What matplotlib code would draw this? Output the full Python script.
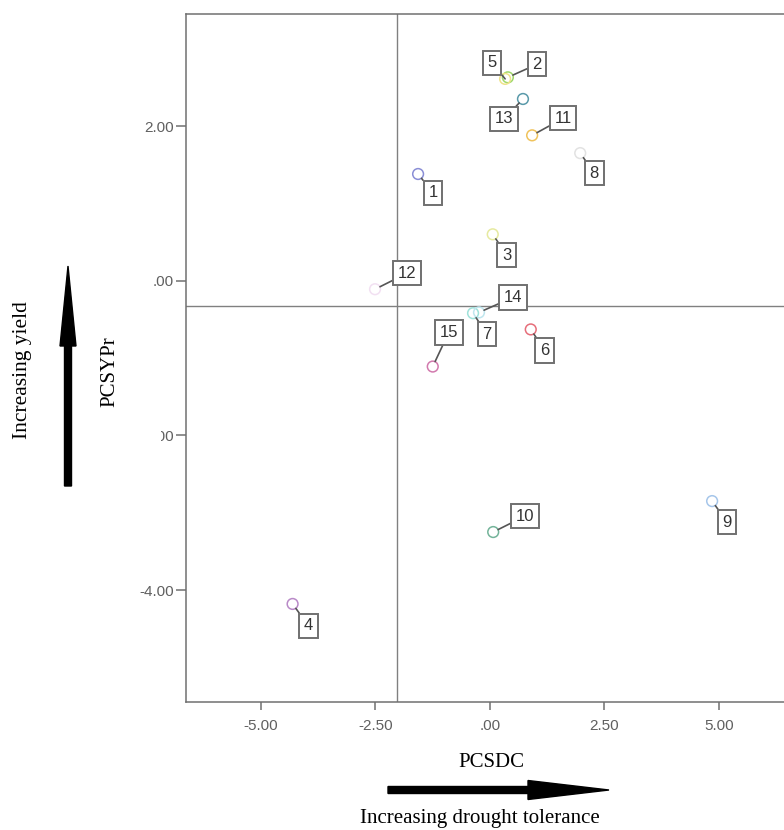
#!/usr/bin/env python3
import matplotlib

matplotlib.use("Agg")
import matplotlib.pyplot as plt
from matplotlib.patches import FancyArrow, Rectangle
from matplotlib.transforms import IdentityTransform

# genotype scores on the two principal components
GENOTYPES = ["1", "2", "3", "4", "5", "6", "7", "8", "9", "10", "11", "12", "13", "14", "15"]
PCSDC = [-1.57, 0.39, 0.06, -4.31, 0.33, 0.89, -0.37, 1.97, 4.85, 0.07, 0.92, -2.51, 0.72, -0.24, -1.25]
PCSYPR = [1.38, 2.63, 0.60, -4.18, 2.61, -0.63, -0.42, 1.65, -2.85, -3.25, 1.88, -0.11, 2.35, -0.41, -1.11]
REF_X = -2.03
REF_Y = -0.33
X_TICKS = [-5.0, -2.5, 0.0, 2.5, 5.0]
X_TICK_LABELS = ["-5.00", "-2.50", ".00", "2.50", "5.00"]
Y_TICKS = [2.0, 0.0, -2.0, -4.0]
Y_TICK_LABELS = ["2.00", ".00", "-2.00", "-4.00"]

COLORS = [
    "#8a8ed6", "#9fd86a", "#e6eaa0", "#b98ac8", "#eee38a",
    "#e66e7a", "#9fe2da", "#e2e2e2", "#a6c6ea", "#74b49a",
    "#f0c35c", "#f2e0f2", "#5a9aaa", "#bfe6ee", "#d27aae",
]

# label box offsets in pixels (dx right, dy down) from each point
LABEL_OFFSETS = {
    "1": (15, 19), "2": (29, -13), "3": (14, 21), "4": (16, 22), "5": (-13, -16),
    "6": (14, 21), "7": (14, 21), "8": (14, 20), "9": (15, 21), "10": (32, -16),
    "11": (31, -17), "12": (32, -16), "13": (-19, 20), "14": (34, -15), "15": (16, -34),
}

W, H = 784, 830
AXIS_GREY = "#707070"
SANS = ["Liberation Sans", "DejaVu Sans"]
SERIF = ["Liberation Serif", "DejaVu Serif"]


def fx(px):
    return px / W


def fy(py):
    return 1 - py / H


def main():
    fig = plt.figure(figsize=(W / 100, H / 100), dpi=100)
    fig.patch.set_facecolor("white")

    left, right, top, bottom = 185.7, 800.0, 14.0, 702.0
    ax = fig.add_axes([fx(left), fy(bottom), (right - left) / W, (bottom - top) / H])
    ax.set_xlim(-6.644, -6.644 + (right - left) / 45.8)
    ax.set_ylim(-5.448, 3.449)

    ax.axvline(REF_X, color="#808080", linewidth=1.0, zorder=1)
    ax.axhline(REF_Y, color="#808080", linewidth=1.0, zorder=1)

    for name, x, y, color in zip(GENOTYPES, PCSDC, PCSYPR, COLORS):
        ax.scatter([x], [y], s=60, facecolors="none", edgecolors=color, linewidths=1.1, zorder=3)
        dx, dy = LABEL_OFFSETS[name]
        ax.annotate(
            name,
            xy=(x, y),
            xytext=(dx * 0.72, -dy * 0.72),
            textcoords="offset points",
            ha="center",
            va="center",
            fontsize=12,
            family=SANS,
            color="#333333",
            bbox={"boxstyle": "square,pad=0.28", "facecolor": "white", "edgecolor": AXIS_GREY, "linewidth": 1.4},
            arrowprops={"arrowstyle": "-", "color": "#555555", "linewidth": 1.2, "shrinkA": 0, "shrinkB": 4},
            zorder=4,
        )

    ax.set_xticks(X_TICKS, X_TICK_LABELS)
    ax.set_yticks(Y_TICKS, Y_TICK_LABELS)
    for lab in ax.get_xticklabels() + ax.get_yticklabels():
        lab.set_family(SANS)
    ax.tick_params(axis="x", length=6, width=1.1, color=AXIS_GREY, labelcolor="#606060", labelsize=11, pad=6)
    ax.tick_params(axis="y", length=7, width=1.1, color=AXIS_GREY, labelcolor="#606060", labelsize=11, pad=1.5)
    for side in ["left", "bottom", "top", "right"]:
        ax.spines[side].set_color(AXIS_GREY)
        ax.spines[side].set_linewidth(1.1)

    # pasted-in annotation block hides part of the -2.00 label
    fig.add_artist(Rectangle((0, fy(500)), fx(161), 205 / H, transform=fig.transFigure,
                             facecolor="white", edgecolor="none", zorder=5))

    fig.add_artist(FancyArrow(68, H - 486, 0, 220, width=7, head_width=16, head_length=80,
                              length_includes_head=True, color="black",
                              transform=IdentityTransform(), zorder=6))
    fig.add_artist(FancyArrow(388, H - 790, 221, 0, width=7, head_width=19, head_length=81,
                              length_includes_head=True, color="black",
                              transform=IdentityTransform(), zorder=6))

    fig.text(fx(110), fy(372), "PCSYPr", rotation=90, ha="center", va="center",
             fontsize=15, family=SERIF, zorder=7)
    fig.text(fx(23), fy(370), "Increasing yield", rotation=90, ha="center", va="center",
             fontsize=15.5, family=SERIF, zorder=7)
    fig.text(fx(491), fy(762), "PCSDC", ha="center", va="center", fontsize=15, family=SERIF, zorder=7)
    fig.text(fx(480), fy(818), "Increasing drought tolerance", ha="center", va="center",
             fontsize=15, family=SERIF, zorder=7)

    fig.savefig("out.png", dpi=100)
    plt.close(fig)


if __name__ == "__main__":
    main()
